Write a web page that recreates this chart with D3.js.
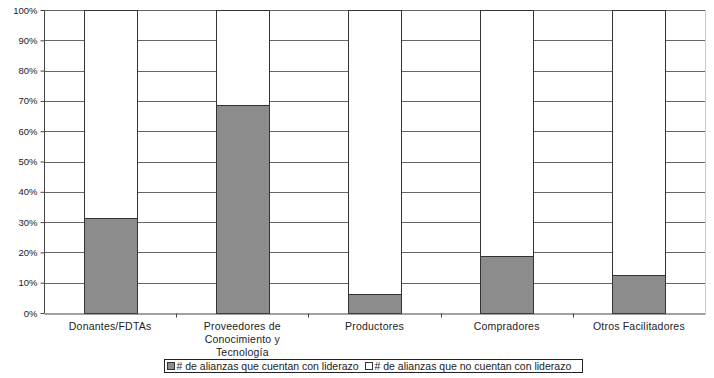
<!DOCTYPE html>
<html>
<head>
<meta charset="utf-8">
<script src="https://cdn.jsdelivr.net/npm/d3@7"></script>
<style>
  body { margin: 0; background: #fff; }
  text { font-family: "Liberation Sans", Arial, sans-serif; fill: #222; }
</style>
</head>
<body>
<div class="chart"></div>
<script>
// categories (label lines) and shares (%)
var categories = [
  ["Donantes/FDTAs"],
  ["Proveedores de", "Conocimiento y", "Tecnología"],
  ["Productores"],
  ["Compradores"],
  ["Otros Facilitadores"]
];
var conLiderazo = [31.25, 68.75, 6.25, 18.75, 12.5];
var sinLiderazo = [68.75, 31.25, 93.75, 81.25, 87.5];
var seriesNames = ["# de alianzas que cuentan con liderazo", "# de alianzas que no cuentan con liderazo"];
var seriesColors = ["#8c8c8c", "#ffffff"];
var yTicks = [0, 10, 20, 30, 40, 50, 60, 70, 80, 90, 100];

var W = 714, H = 378;
var margin = {top: 10, right: 9, bottom: 65, left: 44},
    width = W - margin.left - margin.right,
    height = H - margin.top - margin.bottom;

var svg = d3.select(".chart").append("svg")
    .attr("width", W)
    .attr("height", H)
  .append("g")
    .attr("transform", "translate(" + margin.left + "," + margin.top + ")");

var x = d3.scaleBand().domain(d3.range(categories.length)).range([0, width]).paddingInner(0.6).paddingOuter(0.3);
var xCat = d3.scaleBand().domain(d3.range(categories.length)).range([0, width]);
var y = d3.scaleLinear().domain([0, 100]).range([height, 0]);

// gridlines
svg.append("g")
  .selectAll("line")
  .data(yTicks.slice(1))
  .enter().append("line")
    .attr("x1", 0).attr("x2", width)
    .attr("y1", function(d){ return Math.round(y(d)) + 0.5; })
    .attr("y2", function(d){ return Math.round(y(d)) + 0.5; })
    .attr("stroke", "#666");

// right border of plot
svg.append("line")
  .attr("x1", width + 0.5).attr("x2", width + 0.5)
  .attr("y1", 0).attr("y2", height)
  .attr("stroke", "#c8c8c8");

// stacked bars
var stackData = categories.map(function(c, i){ return {i: i, a: conLiderazo[i], b: sinLiderazo[i]}; });
var stack = d3.stack().keys(["a", "b"])(stackData);

svg.selectAll("g.layer")
  .data(stack)
  .enter().append("g")
    .attr("class", "layer")
    .attr("fill", function(d, k){ return seriesColors[k]; })
  .selectAll("rect")
  .data(function(d){ return d; })
  .enter().append("rect")
    .attr("x", function(d){ return Math.round(x(d.data.i)) + 0.5; })
    .attr("width", Math.round(x.bandwidth()))
    .attr("y", function(d){ return Math.round(y(d[1])) + 0.5; })
    .attr("height", function(d){ return Math.round(y(d[0])) - Math.round(y(d[1])); })
    .attr("stroke", "#333")
    .attr("stroke-width", 1);

// y axis
var yAxis = d3.axisLeft(y).tickValues(yTicks).tickSize(4).tickFormat(function(d){ return d + "%"; });
var gy = svg.append("g").attr("transform", "translate(0.5,0)").call(yAxis);
gy.selectAll("line").attr("stroke", "#444");
gy.select(".domain").attr("stroke", "#444").attr("d", "M0," + height + "V0");
gy.selectAll("text").attr("font-size", "9.5px").attr("fill", "#222").attr("x", -7);

// x axis
var xAxis = d3.axisBottom(xCat).tickValues([]).tickSizeOuter(0);
var gx = svg.append("g").attr("transform", "translate(0," + (height + 0.5) + ")").call(xAxis);
gx.select(".domain").attr("stroke", "#444");
gx.selectAll(".sep")
  .data(d3.range(1, categories.length))
  .enter().append("line")
    .attr("class", "sep")
    .attr("x1", function(d){ return Math.round(xCat(d)) + 0.5; })
    .attr("x2", function(d){ return Math.round(xCat(d)) + 0.5; })
    .attr("y1", 0).attr("y2", 4)
    .attr("stroke", "#444");

// category labels
var labels = svg.append("g").selectAll("text")
  .data(categories)
  .enter().append("text")
    .attr("text-anchor", "middle")
    .attr("font-size", "10.5px")
    .attr("letter-spacing", "0.2px")
    .attr("transform", function(d, i){ return "translate(" + (xCat(i) + xCat.bandwidth() / 2) + "," + (height + 17) + ")"; });
labels.selectAll("tspan")
  .data(function(d){ return d; })
  .enter().append("tspan")
    .attr("x", 0)
    .attr("dy", function(d, j){ return j === 0 ? 0 : 13; })
    .text(function(d){ return d; });

// legend
var legend = d3.select("svg").append("g").attr("transform", "translate(164.5,359.5)");
legend.append("rect").attr("width", 418).attr("height", 13).attr("fill", "#fff").attr("stroke", "#222");
var lx = [3, 201];
seriesNames.forEach(function(name, k){
  legend.append("rect")
    .attr("x", lx[k]).attr("y", 3).attr("width", 7).attr("height", 7)
    .attr("fill", seriesColors[k]).attr("stroke", "#333");
  legend.append("text")
    .attr("x", lx[k] + 9).attr("y", 10.5)
    .attr("font-size", "10.5px")
    .text(name);
});
</script>
</body>
</html>
